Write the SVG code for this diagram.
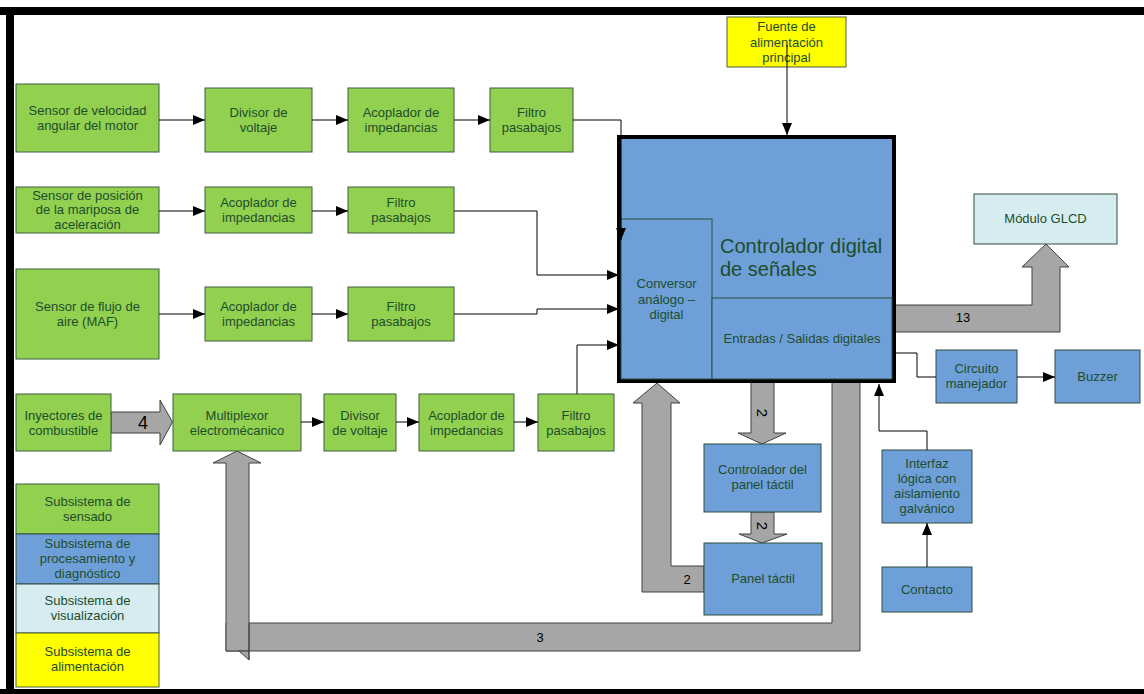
<svg xmlns="http://www.w3.org/2000/svg" width="1144" height="694" viewBox="0 0 1144 694">
<style>
.g{fill:#92d050;stroke:#3f5f3f;stroke-width:1}
.b{fill:#6f9fd9;stroke:#2f4f3f;stroke-width:1}
.c{fill:#d6ecf0;stroke:#2f4f3f;stroke-width:1}
.y{fill:#ffff00;stroke:#4f5f3f;stroke-width:1}
text{font-family:"Liberation Sans",Arial,sans-serif;font-size:13px;fill:#1e4d2b;text-anchor:middle}
.lbl{fill:#000}
.ln{fill:none;stroke:#000;stroke-width:1}
.bus{fill:#a6a6a6;stroke:#404040;stroke-width:1}
</style>
<defs>
<marker id="ah" viewBox="0 0 12 10" refX="12" refY="5" markerWidth="12" markerHeight="10" markerUnits="userSpaceOnUse" orient="auto">
<path d="M0,0 L12,5 L0,10 z" fill="#000"/>
</marker>
</defs>
<rect x="0" y="0" width="1144" height="694" fill="#fff"/>
<!-- frame -->
<rect x="0" y="7" width="1144" height="8" fill="#000"/>
<rect x="6" y="7" width="8" height="687" fill="#000"/>
<rect x="0" y="689" width="1144" height="5" fill="#000"/>

<g id="buses">
<polygon class="bus" points="111,412 160,412 160,400 172.5,422 160,445 160,433 111,433"/>
<path class="bus" d="M249,623 H832 V381 H860 V651 H226 V623 Z"/>
<polygon class="bus" points="237,451 261,463 249,463 249,651 226,651 226,463 213,463"/>
<polygon class="bus" points="239,651 249,651 249,660"/>
<line x1="249" y1="623" x2="249" y2="660" stroke="#404040" stroke-width="1"/>
<polygon class="bus" points="751,381 774,381 774,433 786,433 762,444 738,433 751,433"/>
<polygon class="bus" points="751,512 774,512 774,534 787,534 762,543 739,534 751,534"/>
<path class="bus" d="M704,566 H671 V403 H680 L657,383 L633,403 H642 V592 H704 Z"/>
<path class="bus" d="M894,305 H1032 V267 H1022 L1046,244 L1069,267 H1060 V332 H894 Z"/>
<text class="lbl" x="143" y="429" style="font-size:18px">4</text>
<text class="lbl" x="963" y="322">13</text>
<text class="lbl" x="540" y="642">3</text>
<text class="lbl" x="687" y="584">2</text>
<text class="lbl" transform="translate(762,413) rotate(90)" dy="5" style="font-size:15px">2</text>
<text class="lbl" transform="translate(762,526) rotate(90)" dy="5" style="font-size:15px">2</text>
</g>

<g id="n-sensor-velocidad"><rect class="g" x="16" y="84" width="143" height="68"/><text x="87.5" y="115">Sensor de velocidad</text><text x="87.5" y="130">angular del motor</text></g>
<g id="n-divisor1"><rect class="g" x="205" y="88" width="107" height="64"/><text x="258.5" y="117">Divisor de</text><text x="258.5" y="132">voltaje</text></g>
<g id="n-acoplador1"><rect class="g" x="348" y="88" width="106" height="64"/><text x="401" y="117">Acoplador de</text><text x="401" y="132">impedancias</text></g>
<g id="n-filtro1"><rect class="g" x="490" y="88" width="83" height="64"/><text x="531.5" y="117">Filtro</text><text x="531.5" y="132">pasabajos</text></g>

<g id="n-sensor-posicion"><rect class="g" x="16" y="187" width="143" height="46"/><text x="87.5" y="199.5">Sensor de posición</text><text x="87.5" y="214">de la mariposa de</text><text x="87.5" y="228.5">aceleración</text></g>
<g id="n-acoplador2"><rect class="g" x="205" y="187" width="107" height="46"/><text x="258.5" y="207">Acoplador de</text><text x="258.5" y="222">impedancias</text></g>
<g id="n-filtro2"><rect class="g" x="348" y="187" width="106" height="46"/><text x="401" y="207">Filtro</text><text x="401" y="222">pasabajos</text></g>

<g id="n-sensor-maf"><rect class="g" x="16" y="269" width="143" height="90"/><text x="87.5" y="311">Sensor de flujo de</text><text x="87.5" y="326">aire (MAF)</text></g>
<g id="n-acoplador3"><rect class="g" x="205" y="287" width="107" height="54"/><text x="258.5" y="311">Acoplador de</text><text x="258.5" y="326">impedancias</text></g>
<g id="n-filtro3"><rect class="g" x="348" y="287" width="106" height="54"/><text x="401" y="311">Filtro</text><text x="401" y="326">pasabajos</text></g>

<g id="n-inyectores"><rect class="g" x="16" y="394" width="95" height="57"/><text x="63.5" y="419.5">Inyectores de</text><text x="63.5" y="434.5">combustible</text></g>
<g id="n-multiplexor"><rect class="g" x="173" y="394" width="128" height="57"/><text x="237" y="419.5">Multiplexor</text><text x="237" y="434.5">electromécanico</text></g>
<g id="n-divisor4"><rect class="g" x="324" y="394" width="72" height="57"/><text x="360" y="419.5">Divisor</text><text x="360" y="434.5">de voltaje</text></g>
<g id="n-acoplador4"><rect class="g" x="419" y="394" width="95" height="57"/><text x="466.5" y="419.5">Acoplador de</text><text x="466.5" y="434.5">impedancias</text></g>
<g id="n-filtro4"><rect class="g" x="538" y="394" width="76" height="57"/><text x="576" y="419.5">Filtro</text><text x="576" y="434.5">pasabajos</text></g>

<g id="legend">
<rect class="g" x="16" y="484" width="143" height="50"/><text x="87.5" y="506">Subsistema de</text><text x="87.5" y="521">sensado</text>
<rect class="b" x="16" y="534" width="143" height="50"/><text x="87.5" y="547.5">Subsistema de</text><text x="87.5" y="562.5">procesamiento y</text><text x="87.5" y="577.5">diagnóstico</text>
<rect class="c" x="16" y="584" width="143" height="49"/><text x="87.5" y="605">Subsistema de</text><text x="87.5" y="620">visualización</text>
<rect class="y" x="16" y="633" width="143" height="54"/><text x="87.5" y="656">Subsistema de</text><text x="87.5" y="671">alimentación</text>
</g>

<g id="n-fuente"><rect class="y" x="727" y="17" width="119" height="50"/><text x="786.5" y="31">Fuente de</text><text x="786.5" y="46.5">alimentación</text><text x="786.5" y="62">principal</text></g>

<g id="n-controlador">
<rect x="619" y="137" width="275" height="244" fill="#6f9fd9" stroke="#000" stroke-width="4"/>
<text x="720" y="253" style="font-size:20px;text-anchor:start">Controlador digital</text>
<text x="720" y="276" style="font-size:20px;text-anchor:start">de señales</text>
</g>
<g id="n-conversor"><rect class="b" x="621" y="219" width="91" height="160"/><text x="666.5" y="288">Conversor</text><text x="666.5" y="304">análogo –</text><text x="666.5" y="319">digital</text></g>
<g id="n-entradas"><rect class="b" x="712" y="298" width="180" height="81"/><text x="802" y="343">Entradas / Salidas digitales</text></g>

<g id="n-glcd"><rect class="c" x="974" y="194" width="143" height="50"/><text x="1045.5" y="223">Módulo GLCD</text></g>
<g id="n-circuito"><rect class="b" x="936" y="350" width="81" height="53"/><text x="976.5" y="373">Circuito</text><text x="976.5" y="388">manejador</text></g>
<g id="n-buzzer"><rect class="b" x="1055" y="350" width="85" height="53"/><text x="1097.5" y="381">Buzzer</text></g>
<g id="n-ctrl-panel"><rect class="b" x="704" y="444" width="117" height="68"/><text x="762.5" y="474">Controlador del</text><text x="762.5" y="489">panel táctil</text></g>
<g id="n-panel"><rect class="b" x="704" y="543" width="118" height="72"/><text x="763" y="583">Panel táctil</text></g>
<g id="n-interfaz"><rect class="b" x="882" y="450" width="90" height="73"/><text x="927" y="467.5">Interfaz</text><text x="927" y="482.5">lógica con</text><text x="927" y="497.5">aislamiento</text><text x="927" y="512.5">galvánico</text></g>
<g id="n-contacto"><rect class="b" x="882" y="567" width="90" height="45"/><text x="927" y="594">Contacto</text></g>

<g id="connectors">
<path class="ln" d="M159,120 H205" marker-end="url(#ah)"/>
<path class="ln" d="M312,120 H348" marker-end="url(#ah)"/>
<path class="ln" d="M454,120 H490" marker-end="url(#ah)"/>
<path class="ln" d="M573,120 H621 V240" marker-end="url(#ah)"/>
<path class="ln" d="M159,211 H205" marker-end="url(#ah)"/>
<path class="ln" d="M312,211 H348" marker-end="url(#ah)"/>
<path class="ln" d="M454,211 H537 V275 H619" marker-end="url(#ah)"/>
<path class="ln" d="M159,314 H205" marker-end="url(#ah)"/>
<path class="ln" d="M312,314 H348" marker-end="url(#ah)"/>
<path class="ln" d="M454,314 H537 V309 H619" marker-end="url(#ah)"/>
<path class="ln" d="M301,422 H324" marker-end="url(#ah)"/>
<path class="ln" d="M396,422 H419" marker-end="url(#ah)"/>
<path class="ln" d="M514,422 H538" marker-end="url(#ah)"/>
<path class="ln" d="M577,394 V345 H619" marker-end="url(#ah)"/>
<path class="ln" d="M787,45 V135" stroke="#444" marker-end="url(#ah)"/>
<path class="ln" d="M894,353 H917 V377 H936"/>
<path class="ln" d="M1017,377 H1055" marker-end="url(#ah)"/>
<path class="ln" d="M927,567 V523" marker-end="url(#ah)"/>
<path class="ln" d="M927,450 V431 H879 V384" marker-end="url(#ah)"/>
</g>
</svg>
